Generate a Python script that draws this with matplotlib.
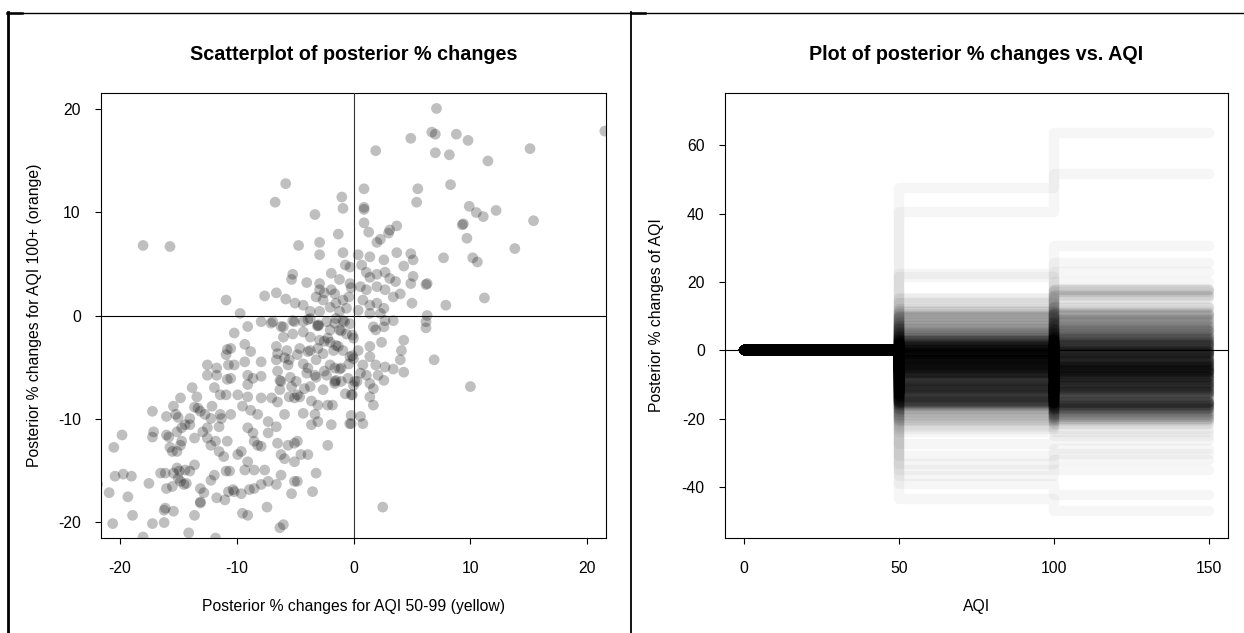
import matplotlib
matplotlib.use("Agg")
import matplotlib.pyplot as plt
from matplotlib.lines import Line2D

plt.rcParams['font.family'] = ['Liberation Sans', 'DejaVu Sans']
plt.rcParams['axes.unicode_minus'] = False

# (yellow AQI 50-99 change, orange AQI 100+ change) pairs
upper_pts = [
    (7.1, 20.1), (4.9, 17.2), (6.7, 17.8), (7.0, 17.6), (8.8, 17.6), (9.8, 17.0),
    (1.9, 16.0), (7.0, 15.8), (8.2, 15.6), (11.5, 15.0), (15.1, 16.2), (21.5, 17.9),
    (-5.8, 12.8), (-6.7, 11.0), (-1.0, 11.5), (-0.9, 10.4), (0.9, 12.3), (0.9, 10.5),
    (0.9, 10.3), (-3.3, 9.8), (0.9, 9.0), (1.3, 8.1), (5.5, 12.3), (5.4, 11.0),
    (8.3, 12.7), (9.9, 10.6), (10.5, 10.0), (11.1, 9.6), (12.2, 10.2), (15.4, 9.2),
    (9.3, 8.8), (9.4, 8.9), (9.7, 7.5), (13.8, 6.5), (10.2, 5.6), (10.6, 5.2),
    (7.7, 5.6), (11.2, 1.7), (7.9, 1.0), (-18.0, 6.8), (-15.7, 6.7), (-10.9, 1.5),
    (-9.7, 0.2), (-7.6, 1.9), (-4.7, 6.8), (-2.9, 7.1), (-1.3, 7.9), (2.0, 7.1),
    (2.3, 7.4), (3.1, 8.3), (3.0, 8.0), (3.7, 8.7), (6.2, 3.0), (6.3, 3.1), (6.3, 0.0),
]

center_pts = [
    (-2.9, 5.9), (-0.9, 6.1), (-0.7, 4.9), (-0.3, 4.7), (-1.9, 4.1), (-1.2, 3.5),
    (-0.3, 3.1), (-0.2, 2.7), (-5.2, 4.0), (-5.3, 3.5), (-4.0, 3.2), (-2.9, 3.1),
    (-6.6, 2.2), (-5.8, 1.6), (-5.0, 1.2), (-4.3, 1.0), (-2.9, 2.5), (-2.5, 2.2),
    (-1.9, 2.5), (-1.6, 2.1), (-3.2, 1.8), (-2.6, 1.5), (-2.0, 0.8), (-1.5, 1.2),
    (-0.9, 1.5), (-0.4, 1.8), (-0.6, 0.7), (-1.2, 0.4), (-3.7, 0.4), (-2.9, 0.4),
    (0.4, 5.9), (1.4, 5.7), (2.6, 5.4), (3.7, 6.1), (5.1, 5.4), (4.9, 6.0),
    (0.7, 4.9), (1.1, 4.2), (1.4, 3.7), (2.0, 4.0), (2.7, 4.2), (3.1, 3.6),
    (3.6, 3.3), (4.3, 4.8), (5.1, 3.8), (4.9, 3.1), (0.6, 2.8), (1.1, 2.5),
    (2.0, 2.8), (2.7, 2.5), (3.4, 1.8), (4.0, 2.1), (5.0, 1.2), (0.8, 1.5),
    (1.4, 1.0), (2.0, 1.2), (2.6, 0.7), (0.4, 0.5), (1.4, 0.2), (2.3, 0.2),
    (1.7, -1.1), (2.6, -1.1), (2.7, -0.5), (3.4, -0.5), (2.4, -2.6), (1.9, -1.4),
    (4.3, -2.4), (4.1, -3.4), (4.0, -4.3), (4.3, -5.5), (3.4, -5.2), (2.7, -5.0),
    (1.4, -4.0), (1.9, -4.8), (0.8, -4.8), (1.1, -5.8), (0.6, -5.6), (0.3, -6.4),
    (1.4, -6.6), (1.7, -7.1), (2.1, -5.8), (2.6, -6.3), (0.4, -3.4), (1.4, -3.0),
    (1.4, -7.9), (0.0, -2.2), (-0.1, -1.9), (-0.1, -3.9), (0.0, -4.2), (0.1, -6.4),
    (0.0, -6.8), (-0.1, -7.7),
    (-3.0, -1.0), (-3.0, -0.9), (-3.1, -1.0), (-3.7, -0.3), (-4.3, -0.6), (-5.2, -0.5),
    (-6.0, -1.1), (-6.9, -0.6), (-2.3, -0.6), (-1.5, -0.3), (-0.9, -0.5), (-0.3, -0.8),
    (-2.0, -1.4), (-1.2, -1.4), (-0.6, -1.8), (-4.3, -1.6), (-5.2, -1.8), (-6.0, -2.1),
    (-3.7, -2.1), (-2.9, -2.4), (-2.0, -2.6), (-1.5, -2.9), (-6.6, -3.0), (-5.7, -3.4),
    (-4.6, -3.2), (-3.7, -3.4), (-2.6, -3.7), (-1.7, -3.4), (-0.9, -3.4), (-0.3, -4.0),
    (-0.4, -4.7), (-6.6, -4.3), (-5.5, -4.3), (-4.3, -4.7), (-3.2, -4.3), (-2.0, -4.8),
    (-1.2, -5.2), (-6.3, -6.3), (-5.4, -6.0), (-4.9, -6.4), (-4.0, -5.6), (-3.2, -6.0),
    (-2.3, -5.8), (-1.5, -6.3), (-3.7, -6.9), (-2.6, -7.2), (-1.6, -6.6), (-6.3, -7.2),
    (-5.5, -7.9), (-4.6, -7.9), (-0.7, -7.6),
]

core_pts = [
    (-6.5, -3.7), (-5.9, -4.1), (-5.6, -4.8), (-6.5, -5.4), (-4.8, -3.8), (-3.9, -3.5),
    (-3.05, -3.2), (-2.5, -2.5), (-3.9, -5.1), (-3.3, -5.8), (-2.5, -5.4), (-1.6, -5.1),
    (-1.05, -5.1), (-6.2, -6.4), (-5.3, -6.9), (-4.8, -7.7), (-5.05, -8.0), (-4.2, -7.1),
    (-1.6, -6.4), (-1.05, -6.4), (-0.47, -6.1), (-0.19, -7.7), (-1.6, -0.75), (-1.05, -1.5),
    (-0.76, -0.6), (-2.2, -2.2), (-1.3, -3.0), (-3.9, -0.4), (-5.05, -0.6), (-6.2, -1.07),
    (-7.05, -0.75),
]

lower_right_pts = [
    (6.2, -0.6), (6.2, -1.2), (6.9, -4.3), (10.0, -6.9), (1.7, -8.7), (0.8, -10.5),
    (0.6, -9.8), (-0.2, -9.7), (-0.2, -10.5), (2.5, -18.6),
]

lower_left_pts = [
    (-20.5, -12.8), (-19.8, -11.6), (-20.9, -17.2), (-20.4, -15.6), (-19.7, -15.4),
    (-19.0, -15.6), (-19.3, -17.6), (-20.6, -20.2), (-18.9, -19.4), (-18.0, -21.5),
    (-17.2, -9.3), (-17.1, -11.3), (-17.2, -11.8), (-17.5, -16.3), (-17.2, -20.2),
    (-16.2, -20.1), (-16.1, -18.7), (-16.2, -18.9), (-15.4, -19.0), (-16.5, -15.3),
    (-16.1, -15.3), (-16.0, -16.8), (-15.5, -16.6), (-15.7, -12.8), (-15.5, -13.2),
    (-15.8, -11.8), (-16.0, -11.6), (-15.4, -15.3), (-15.0, -15.8), (-14.8, -16.1),
    (-15.1, -14.8), (-14.9, -15.1), (-14.4, -15.0), (-14.0, -15.1), (-13.6, -14.5),
    (-14.3, -16.3), (-14.5, -16.4), (-16.0, -9.8), (-15.2, -9.6), (-15.0, -9.9),
    (-15.4, -8.8), (-14.8, -8.0), (-15.1, -11.3), (-14.7, -10.9), (-14.4, -10.6),
    (-14.0, -10.6), (-13.6, -11.9), (-14.7, -12.2), (-14.8, -12.6), (-15.1, -13.2),
    (-13.8, -7.0), (-13.4, -7.9), (-13.6, -8.9), (-13.3, -9.0), (-13.1, -9.3),
    (-12.7, -9.6), (-12.2, -10.0), (-14.0, -10.0), (-12.5, -4.8), (-11.7, -5.1),
    (-12.5, -5.8), (-11.7, -5.8), (-11.9, -7.0), (-11.4, -7.7), (-10.9, -7.7),
    (-12.1, -8.8), (-11.4, -9.6), (-11.3, -10.0), (-12.9, -11.3), (-12.5, -11.9),
    (-12.2, -12.6), (-11.8, -12.2), (-11.5, -13.2), (-11.1, -13.7), (-12.5, -10.9),
    (-11.5, -10.8), (-10.9, -15.1), (-11.9, -15.5), (-12.2, -16.0), (-13.1, -16.8),
    (-12.8, -17.2), (-13.1, -18.1), (-13.1, -18.2), (-11.7, -17.7), (-11.0, -17.9),
    (-13.6, -19.4), (-14.1, -21.1), (-11.8, -21.6), (-10.7, -17.1), (-10.8, -3.3),
    (-10.9, -3.8), (-10.7, -4.8), (-10.8, -6.2), (-21.9, -16.4),
]

mid_left_pts = [
    (-7.9, -0.6), (-9.05, -1.07), (-10.2, -1.7), (-9.05, -6.7), (-8.6, -6.1), (-7.9, -5.9),
    (-9.05, -5.8), (-10.2, -4.8), (-9.3, -4.5), (-7.9, -4.5), (-10.5, -3.2), (-9.3, -2.8),
    (-8.8, -3.5), (-9.9, -7.7), (-9.05, -7.9), (-7.9, -8.0), (-7.0, -8.0), (-3.6, -8.3),
    (-3.05, -8.7), (-2.2, -8.7), (-1.8, -8.7), (-5.9, -9.6), (-4.3, -9.5), (-3.3, -9.6),
    (-0.33, -10.5), (-1.9, -10.6), (-2.2, -12.6), (-3.6, -10.6), (-3.05, -10.3),
    (-9.5, -8.8), (-8.8, -9.2), (-8.2, -9.6), (-6.5, -8.4), (-9.05, -10.9), (-8.6, -11.4),
    (-8.5, -12.2), (-7.9, -12.7), (-8.2, -12.6), (-7.3, -10.3), (-6.6, -10.8), (-7.3, -11.4),
    (-6.5, -12.4), (-5.6, -12.6), (-5.05, -12.4), (-4.8, -12.2), (-9.6, -13.2), (-9.9, -13.5),
    (-9.05, -14.2), (-6.2, -13.5), (-5.9, -13.9), (-5.05, -14.2), (-4.5, -13.5), (-3.9, -13.5),
    (-7.6, -15.0), (-6.2, -15.5), (-5.05, -16.1), (-4.8, -16.1), (-9.3, -15.0), (-8.5, -15.0),
    (-3.2, -15.3), (-10.3, -16.9), (-10.2, -17.1), (-9.6, -17.3), (-8.9, -16.9), (-8.5, -16.8),
    (-7.9, -16.4), (-7.3, -16.1), (-6.6, -16.4), (-5.3, -17.3), (-3.5, -17.1), (-9.5, -19.2),
    (-9.05, -19.4), (-7.4, -18.6), (-6.3, -20.6), (-6.0, -20.3), (-10.8, -12.2), (-10.6, -15.1),
    (-10.5, -9.6), (-10.5, -6.1),
]

# draws that fall outside the scatter window
outlier_pts = [
    (40.5, 63.5), (47.6, 51.5), (22.2, 30.5), (14.0, 25.7), (12.0, 23.0),
    (-27.4, -26.2), (-31.0, -30.4), (-33.3, -32.1), (-35.0, -35.0), (-36.9, -29.0),
    (-39.2, -42.2), (-43.4, -46.9), (-24.0, -25.0), (-23.0, -20.0), (-22.5, -18.0),
    (-15.0, -23.0), (-12.0, -24.0),
]

all_pts = (upper_pts + center_pts + core_pts + lower_right_pts
           + lower_left_pts + mid_left_pts + outlier_pts)
yellow = [p[0] for p in all_pts]
orange = [p[1] for p in all_pts]

aqi_steps = [0, 50, 50, 100, 100, 150]

fig = plt.figure(figsize=(12.44, 6.33), dpi=100)
W, H = 1244, 633

ax1 = fig.add_axes([101 / W, 1 - 538 / H, 505 / W, 445 / H])
ax2 = fig.add_axes([725 / W, 1 - 538 / H, 503 / W, 445 / H])

# left: scatter
ax1.scatter(yellow, orange, s=60, c='black', alpha=0.25, edgecolors='none', zorder=2)
ax1.axhline(0, color='black', lw=0.8, zorder=3)
ax1.axvline(0, color='#333333', lw=0.8, zorder=3)
ax1.set_xlim(-21.6, 21.6)
ax1.set_ylim(-21.6, 21.6)
ax1.set_xticks([-20, -10, 0, 10, 20])
ax1.set_yticks([-20, -10, 0, 10, 20])

# right: step lines per draw
for y1, y2 in zip(yellow, orange):
    ax2.plot(aqi_steps, [0, 0, y1, y1, y2, y2], color='black', alpha=0.035, lw=7.5,
             solid_capstyle='round', solid_joinstyle='round', zorder=2)
ax2.axhline(0, color='black', lw=0.8, zorder=3)
ax2.set_xlim(-6, 156)
ax2.set_ylim(-54.9, 75.3)
ax2.set_xticks([0, 50, 100, 150])
ax2.set_yticks([-40, -20, 0, 20, 40, 60])

for ax in (ax1, ax2):
    for s in ax.spines.values():
        s.set_linewidth(0.8)
    ax.tick_params(direction='out', length=4.5, width=0.8, labelsize=11.3,
                   colors='black')
    ax.tick_params(axis='x', pad=12)
    ax.tick_params(axis='y', pad=10)

fig.text(353.5 / W, 1 - 54 / H, 'Scatterplot of posterior % changes', ha='center',
         va='center', fontsize=14.2, fontweight='bold')
fig.text(976.5 / W, 1 - 54 / H, 'Plot of posterior % changes vs. AQI', ha='center',
         va='center', fontsize=14.2, fontweight='bold')
fig.text(353.5 / W, 1 - 607 / H, 'Posterior % changes for AQI 50-99 (yellow)',
         ha='center', va='center', fontsize=11.3)
fig.text(976.5 / W, 1 - 607 / H, 'AQI', ha='center', va='center', fontsize=11.3)
fig.text(35 / W, 1 - 315.5 / H, 'Posterior % changes for AQI 100+ (orange)',
         ha='center', va='center', rotation=90, fontsize=11.3)
fig.text(657 / W, 1 - 315.5 / H, 'Posterior % changes of AQI',
         ha='center', va='center', rotation=90, fontsize=11.3)

# table borders around the two panels
def px_line(xs, ys, lw):
    fig.add_artist(Line2D([x / W for x in xs], [1 - y / H for y in ys],
                          color='black', lw=lw, transform=fig.transFigure))

px_line([7, W], [12.5, 12.5], 1.0)
px_line([7, 22], [12.5, 12.5], 1.8)
px_line([631, 645], [12.5, 12.5], 1.8)
px_line([8, 8], [12, H], 2.0)
px_line([631.5, 631.5], [12, H], 1.3)

fig.savefig('out.png', dpi=100)
